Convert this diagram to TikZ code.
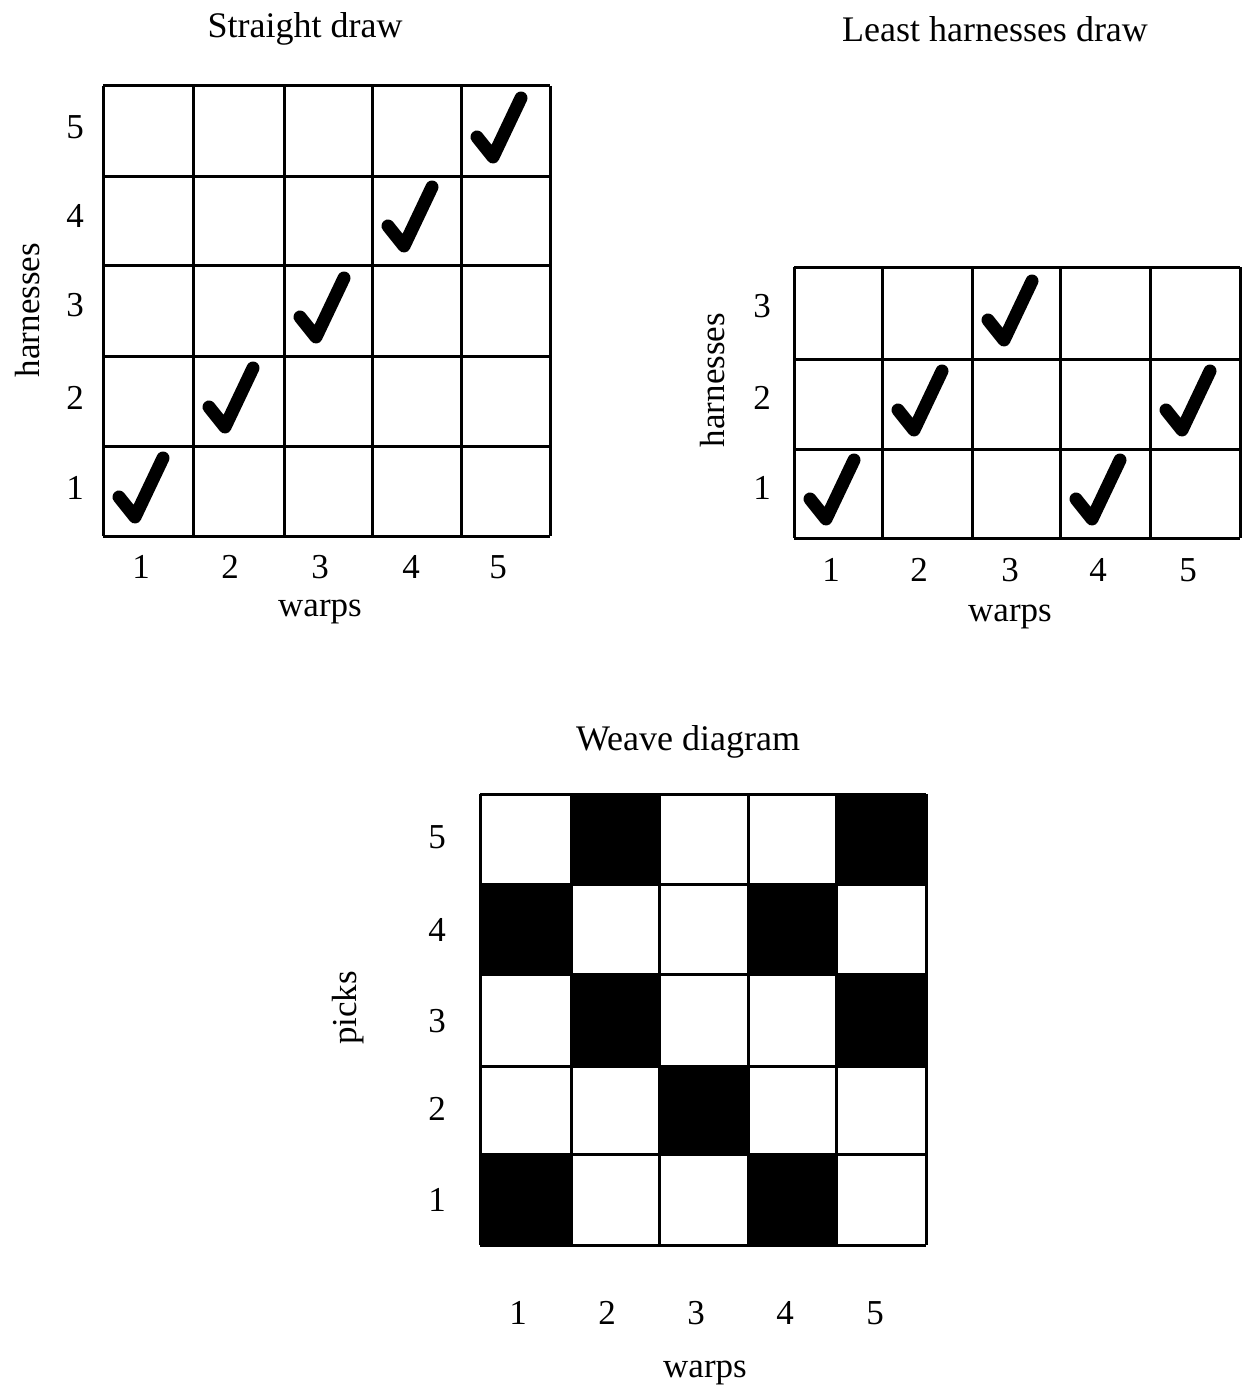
\documentclass[tikz,border=0pt]{standalone}
\usepackage{fontspec}
\setmainfont{Liberation Serif}
\begin{document}
\begin{tikzpicture}[x=1pt,y=-1pt,
  lbl/.style={inner sep=0pt, font=\fontsize{35}{40}\selectfont},
  ttl/.style={inner sep=0pt, font=\fontsize{36}{40}\selectfont},
  gridline/.style={line width=3pt, black},
  chk/.style={line width=13pt, line cap=round, line join=round, black},
  blk/.style={fill=black, draw=none}]
\path[use as bounding box, fill=white] (0,0) rectangle (1242,1394);

% ---------- Straight draw ----------
\node[ttl] (t1) at (305,29) {Straight draw};
\foreach \x in {103,193,284,372,461,550} \draw[gridline] (\x,86) -- (\x,536);
\foreach \y in {86,176,265,356,446,536} \draw[gridline] (103,\y) -- (550,\y);
\foreach \px/\py in {103/536,193/446,284/356,372/265,461/176}
  \draw[chk] (\px+16,\py-39) -- (\px+32,\py-19) -- (\px+60,\py-78);
\foreach \n/\y in {5/127,4/216,3/305,2/398,1/488} \node[lbl] (a-r\n) at (75,\y) {\n};
\foreach \n/\x in {1/141,2/230,3/320,4/411,5/498} \node[lbl] (a-c\n) at (\x,567) {\n};
\node[lbl] (a-w) at (320,612) {warps};
\node[lbl, rotate=90] (a-h) at (28,310) {harnesses};

% ---------- Least harnesses draw ----------
\node[ttl] (t2) at (995,29) {Least harnesses draw};
\foreach \x in {794,882,972,1060,1150,1240} \draw[gridline] (\x,267) -- (\x,538);
\foreach \y in {267,359,449,538} \draw[gridline] (794,\y) -- (1240,\y);
\foreach \px/\py in {794/538,882/449,972/359,1060/538,1150/449}
  \draw[chk] (\px+16,\py-39) -- (\px+32,\py-19) -- (\px+60,\py-78);
\foreach \n/\y in {3/306,2/398,1/488} \node[lbl] (b-r\n) at (762,\y) {\n};
\foreach \n/\x in {1/831,2/919,3/1010,4/1098,5/1188} \node[lbl] (b-c\n) at (\x,570) {\n};
\node[lbl] (b-w) at (1010,617) {warps};
\node[lbl, rotate=90] (b-h) at (713,380) {harnesses};

% ---------- Weave diagram ----------
\node[ttl] (t3) at (688,742) {Weave diagram};
\foreach \xa/\xb/\ya/\yb in {
  571/659/794/884, 836/926/794/884,
  480/571/884/974, 748/836/884/974,
  571/659/974/1066, 836/926/974/1066,
  659/748/1066/1154,
  480/571/1154/1245, 748/836/1154/1245}
  \path[blk] (\xa,\ya) rectangle (\xb,\yb);
\foreach \x in {480,571,659,748,836,926} \draw[gridline] (\x,794) -- (\x,1245);
\foreach \y in {794,884,974,1066,1154,1245} \draw[gridline] (480,\y) -- (926,\y);
\foreach \n/\y in {5/837,4/930,3/1021,2/1109,1/1200} \node[lbl] (c-r\n) at (437,\y) {\n};
\foreach \n/\x in {1/518,2/607,3/696,4/785,5/875} \node[lbl] (c-c\n) at (\x,1313) {\n};
\node[lbl] (c-w) at (705,1373) {warps};
\node[lbl, rotate=90] (c-p) at (348,1008) {picks};
\end{tikzpicture}
\end{document}
